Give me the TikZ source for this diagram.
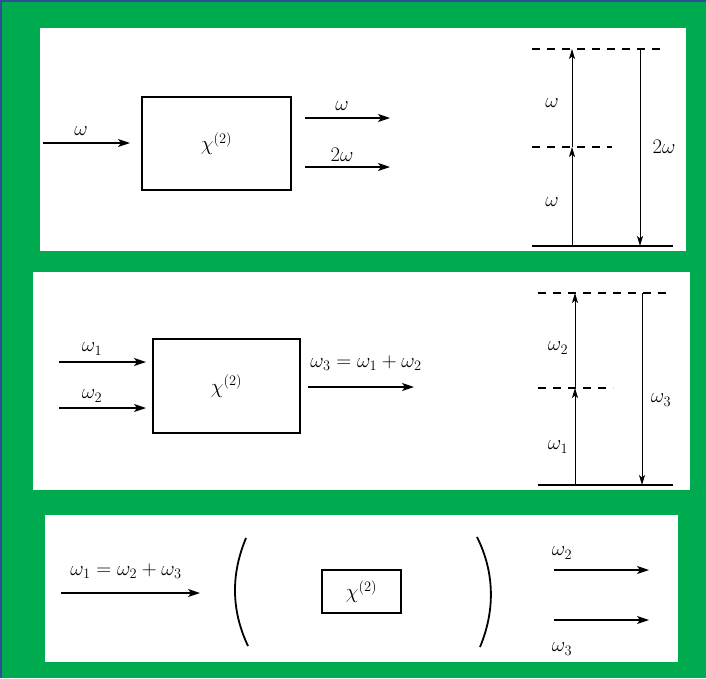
\documentclass[tikz,border=0pt]{standalone}
\usetikzlibrary{arrows.meta}
\definecolor{panelgreen}{RGB}{0,170,78}
\definecolor{edgeblue}{RGB}{48,78,150}
\tikzset{
  beam/.style={line width=1.3pt,-{Stealth[length=12pt,width=8pt,inset=3pt]}},
  trans/.style={line width=0.9pt,-{Stealth[length=10pt,width=6pt,inset=2.5pt]}},
  level/.style={line width=1.1pt},
  virt/.style={line width=1.1pt,dash pattern=on 8pt off 7pt},
  chibox/.style={draw,line width=1.1pt,inner sep=0pt,font=\huge},
  lbl/.style={inner sep=1pt,font=\huge}
}
\tikzset{mirror/.style={line width=1.8pt}}
\begin{document}
\begin{tikzpicture}[x=1pt,y=-1pt]
\useasboundingbox (0,0) rectangle (706,678);
% frame and panels
\fill[panelgreen] (0,0) rectangle (706,678);
\draw[edgeblue,line width=2pt] (1,678) -- (1,1) -- (706,1);
\fill[white] (40,28) rectangle (686,251);
\fill[white] (33,272) rectangle (690,490);
\fill[white] (45,515) rectangle (678,662);

% second harmonic generation
\node[chibox,minimum width=149pt,minimum height=93pt] (shg) at (216.5,143.5) {$\chi^{(2)}$};
\coordinate (shgA) at (43,143);  \coordinate (shgB) at (130,143);
\coordinate (shgC) at (305,118); \coordinate (shgD) at (390,118);
\coordinate (shgE) at (305,167); \coordinate (shgF) at (390,167);
\draw[beam] (shgA) -- (shgB);
\draw[beam] (shgC) -- (shgD);
\draw[beam] (shgE) -- (shgF);
\node[lbl] (shgw) at (81,131) {$\omega$};
\node[lbl] (shgw1) at (342,106) {$\omega$};
\node[lbl] (shgw2) at (342,155) {$2\omega$};
% levels
\coordinate (g1L) at (532,246); \coordinate (g1R) at (673,246);
\coordinate (m1L) at (532,147); \coordinate (m1R) at (612,147);
\coordinate (t1L) at (532,49);  \coordinate (t1R) at (664,49);
\draw[level] (g1L) -- (g1R);
\draw[virt] (m1L) -- (m1R);
\draw[virt] (t1L) -- (t1R);
\coordinate (u1a) at (572,246); \coordinate (u1b) at (572,147); \coordinate (u1c) at (572,49);
\coordinate (d1a) at (640,49);  \coordinate (d1b) at (640,246);
\draw[trans] (u1a) -- (u1b);
\draw[trans] (u1b) -- (u1c);
\draw[trans] (d1a) -- (d1b);
\node[lbl] (e1a) at (552,202) {$\omega$};
\node[lbl] (e1b) at (552,103) {$\omega$};
\node[lbl] (e1c) at (664,147) {$2\omega$};

% sum frequency generation
\node[chibox,minimum width=147pt,minimum height=94pt] (sfg) at (226.5,386) {$\chi^{(2)}$};
\coordinate (sfgA) at (59,362);  \coordinate (sfgB) at (146,362);
\coordinate (sfgC) at (59,408);  \coordinate (sfgD) at (146,408);
\coordinate (sfgE) at (308,387); \coordinate (sfgF) at (414,387);
\draw[beam] (sfgA) -- (sfgB);
\draw[beam] (sfgC) -- (sfgD);
\draw[beam] (sfgE) -- (sfgF);
\node[lbl] (sfgw1) at (92,349) {$\omega_1$};
\node[lbl] (sfgw2) at (92,396) {$\omega_2$};
\node[lbl] (sfgw3) at (366,363) {$\omega_3=\omega_1+\omega_2$};
% levels
\coordinate (g2L) at (538,485); \coordinate (g2R) at (673,485);
\coordinate (m2L) at (538,388); \coordinate (m2R) at (613,388);
\coordinate (t2L) at (538,293); \coordinate (t2R) at (667,293);
\draw[level] (g2L) -- (g2R);
\draw[virt] (m2L) -- (m2R);
\draw[virt] (t2L) -- (t2R);
\coordinate (u2a) at (575,485); \coordinate (u2b) at (575,388); \coordinate (u2c) at (575,293);
\coordinate (d2a) at (642,293); \coordinate (d2b) at (642,485);
\draw[trans] (u2a) -- (u2b);
\draw[trans] (u2b) -- (u2c);
\draw[trans] (d2a) -- (d2b);
\node[lbl] (e2a) at (558,447) {$\omega_1$};
\node[lbl] (e2b) at (558,348) {$\omega_2$};
\node[lbl] (e2c) at (661,400) {$\omega_3$};

% optical parametric oscillator
\node[chibox,line width=2pt,minimum width=79pt,minimum height=43pt] (opo) at (361.5,591.5) {$\chi^{(2)}$};
\coordinate (opoA) at (61,593);  \coordinate (opoB) at (200,593);
\coordinate (opoC) at (554,570); \coordinate (opoD) at (649,570);
\coordinate (opoE) at (554,620); \coordinate (opoF) at (649,620);
\draw[beam] (opoA) -- (opoB);
\draw[beam] (opoC) -- (opoD);
\draw[beam] (opoE) -- (opoF);
\node[lbl] (opow1) at (126,571) {$\omega_1=\omega_2+\omega_3$};
\node[lbl] (opow2) at (562,553) {$\omega_2$};
\node[lbl] (opow3) at (562,649) {$\omega_3$};
% mirrors
\coordinate (mLa) at (246,538); \coordinate (mLb) at (248,646);
\coordinate (mRa) at (477,537); \coordinate (mRb) at (480,647);
\draw[mirror] (mLa) .. controls (231,574) and (231,610) .. (mLb);
\draw[mirror] (mRa) .. controls (495,573) and (495,611) .. (mRb);
\end{tikzpicture}
\end{document}
